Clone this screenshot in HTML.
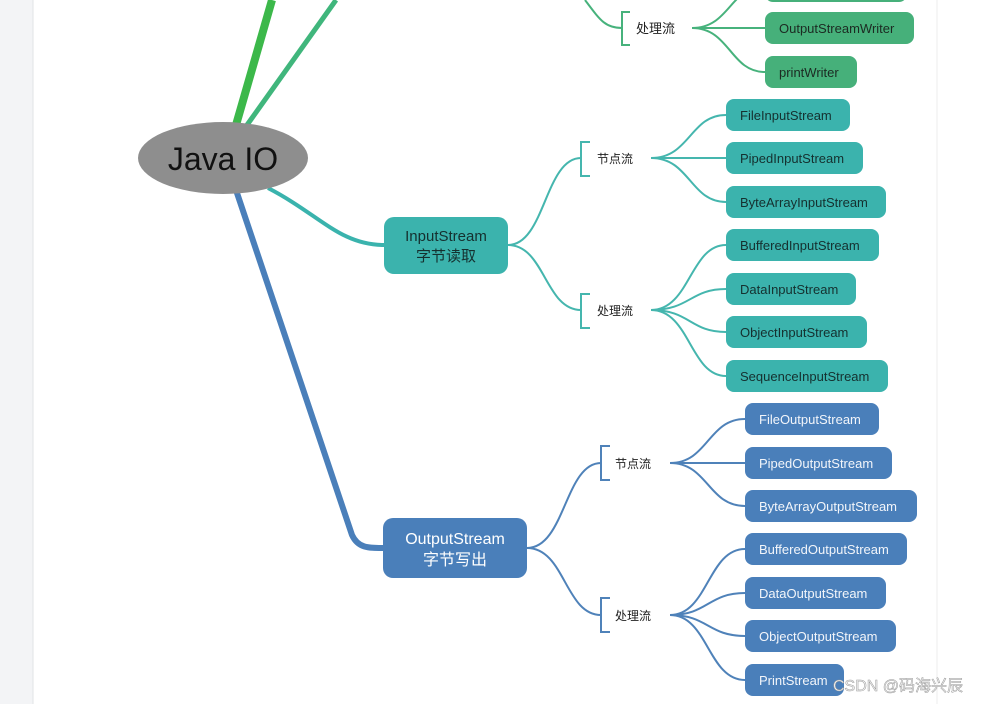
<!DOCTYPE html>
<html><head><meta charset="utf-8"><style>
html,body{margin:0;padding:0;background:#fff;}
svg{display:block;}
text{font-family:"Liberation Sans","Noto Sans CJK SC",sans-serif;}
</style></head><body>
<svg width="986" height="704" viewBox="0 0 986 704" xmlns="http://www.w3.org/2000/svg">
<rect x="0" y="0" width="33" height="704" fill="#f3f4f6"/>
<line x1="33" y1="0" x2="33" y2="704" stroke="#e2e3e6" stroke-width="1"/>
<line x1="937" y1="0" x2="937" y2="704" stroke="#ececec" stroke-width="1"/>

<path d="M236,125 L272,0" stroke="#3cb84a" stroke-width="8" fill="none"/>
<path d="M247,125 L336,0" stroke="#40b67c" stroke-width="5" fill="none"/>
<path d="M268,188 C320,215 340,245 384,245" stroke="#3ab3ad" stroke-width="4" fill="none"/>
<path d="M236,190 L352,535 C358,548 368,548 383,548" stroke="#4a7fba" stroke-width="6" fill="none"/>

<g stroke="#47b27c" stroke-width="2" fill="none">
<path d="M585,0 C600,20 605,28 622,28"/>
<path d="M630,12 L622,12 L622,45 L630,45"/>
<path d="M692,28 C730,28 730,-14 765,-14"/>
<path d="M692,28 L765,28"/>
<path d="M692,28 C730,28 730,72 765,72"/>
</g>
<text x="636" y="33" font-size="13" fill="#222">处理流</text>
<rect x="765" y="-18" width="142" height="20" rx="8" fill="#46b07a"/>
<rect x="765" y="12" width="149" height="32" rx="8" fill="#46b07a"/>
<text x="779" y="33" font-size="13" fill="#1c2a22">OutputStreamWriter</text>
<rect x="765" y="56" width="92" height="32" rx="8" fill="#46b07a"/>
<text x="779" y="77" font-size="13" fill="#1c2a22">printWriter</text>

<ellipse cx="223" cy="158" rx="85" ry="36" fill="#8e8e8e"/>
<text x="223" y="170" font-size="32" fill="#111" text-anchor="middle">Java IO</text>

<rect x="384" y="217" width="124" height="57" rx="10" fill="#3bb3ad"/>
<text x="446" y="241" font-size="15" fill="#15302f" text-anchor="middle">InputStream</text>
<text x="446" y="261" font-size="15" fill="#15302f" text-anchor="middle">字节读取</text>
<g stroke="#45b6ae" stroke-width="2" fill="none">
<path d="M508,245 C545,245 545,158 581,158"/>
<path d="M508,245 C545,245 545,310 581,310"/>
<path d="M590,142 L581,142 L581,176 L590,176"/>
<path d="M590,294 L581,294 L581,328 L590,328"/>
<path d="M651,158 C690,158 690,115 726,115"/>
<path d="M651,158 L726,158"/>
<path d="M651,158 C690,158 690,202 726,202"/>
<path d="M651,310 C690,310 690,245 726,245"/>
<path d="M651,310 C690,310 690,289 726,289"/>
<path d="M651,310 C690,310 690,332 726,332"/>
<path d="M651,310 C690,310 690,376 726,376"/>
</g>
<text x="597" y="163" font-size="12" fill="#222">节点流</text>
<text x="597" y="315" font-size="12" fill="#222">处理流</text>
<g fill="#3bb3ad">
<rect x="726" y="99" width="124" height="32" rx="8"/>
<rect x="726" y="142" width="137" height="32" rx="8"/>
<rect x="726" y="186" width="160" height="32" rx="8"/>
<rect x="726" y="229" width="153" height="32" rx="8"/>
<rect x="726" y="273" width="130" height="32" rx="8"/>
<rect x="726" y="316" width="141" height="32" rx="8"/>
<rect x="726" y="360" width="162" height="32" rx="8"/>
</g>
<g font-size="13" fill="#15302f">
<text x="740" y="120">FileInputStream</text>
<text x="740" y="163">PipedInputStream</text>
<text x="740" y="207">ByteArrayInputStream</text>
<text x="740" y="250">BufferedInputStream</text>
<text x="740" y="294">DataInputStream</text>
<text x="740" y="337">ObjectInputStream</text>
<text x="740" y="381">SequenceInputStream</text>
</g>

<rect x="383" y="518" width="144" height="60" rx="10" fill="#4a7fba"/>
<text x="455" y="544" font-size="16" fill="#fff" text-anchor="middle">OutputStream</text>
<text x="455" y="565" font-size="16" fill="#fff" text-anchor="middle">字节写出</text>
<g stroke="#4f82b9" stroke-width="2" fill="none">
<path d="M527,548 C565,548 565,463 601,463"/>
<path d="M527,548 C565,548 565,615 601,615"/>
<path d="M610,446 L601,446 L601,480 L610,480"/>
<path d="M610,598 L601,598 L601,632 L610,632"/>
<path d="M670,463 C708,463 708,419 745,419"/>
<path d="M670,463 L745,463"/>
<path d="M670,463 C708,463 708,506 745,506"/>
<path d="M670,615 C708,615 708,549 745,549"/>
<path d="M670,615 C708,615 708,593 745,593"/>
<path d="M670,615 C708,615 708,636 745,636"/>
<path d="M670,615 C708,615 708,680 745,680"/>
</g>
<text x="615" y="468" font-size="12" fill="#222">节点流</text>
<text x="615" y="620" font-size="12" fill="#222">处理流</text>
<g fill="#4a7fba">
<rect x="745" y="403" width="134" height="32" rx="8"/>
<rect x="745" y="447" width="147" height="32" rx="8"/>
<rect x="745" y="490" width="172" height="32" rx="8"/>
<rect x="745" y="533" width="162" height="32" rx="8"/>
<rect x="745" y="577" width="141" height="32" rx="8"/>
<rect x="745" y="620" width="151" height="32" rx="8"/>
<rect x="745" y="664" width="99" height="32" rx="8"/>
</g>
<g font-size="13" fill="#f2f5fa">
<text x="759" y="424">FileOutputStream</text>
<text x="759" y="468">PipedOutputStream</text>
<text x="759" y="511">ByteArrayOutputStream</text>
<text x="759" y="554">BufferedOutputStream</text>
<text x="759" y="598">DataOutputStream</text>
<text x="759" y="641">ObjectOutputStream</text>
<text x="759" y="685">PrintStream</text>
</g>

<text x="833" y="691" font-size="16" fill="#f4f4f4" stroke="#999" stroke-width="0.5">CSDN @码海兴辰</text>
</svg>
</body></html>
